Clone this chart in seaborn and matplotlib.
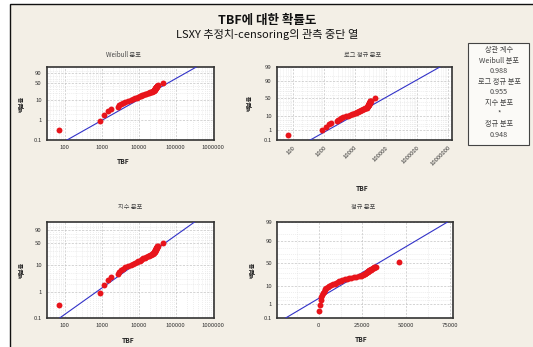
import math
import numpy as np
import matplotlib
matplotlib.use("Agg")
import matplotlib.pyplot as plt
import seaborn as sns
from matplotlib import patches, ticker

# TBF failure times and plotting positions (percent)
tbf = [70, 900, 1150, 1450, 1750, 2700, 2900, 3300, 3700, 4200, 5200, 6100, 6900, 8000,
       9000, 9900, 10800, 11700, 12500, 13500, 14900, 16200, 17400, 18600, 20000, 21500,
       23000, 24300, 25000, 25500, 26000, 26500, 26900, 27300, 27700, 28000, 28400, 28700,
       29000, 29300, 29700, 30100, 30500, 31000, 31400, 31800, 32200, 32600, 46000]
pct = [0.33, 0.87, 1.8, 2.7, 3.6, 4.5, 5.4, 6.3, 7.2, 8.1, 9.0, 9.9, 10.8, 11.7,
       12.6, 13.5, 14.4, 15.3, 16.2, 17.1, 18.0, 18.9, 19.8, 20.7, 21.6, 22.5,
       23.4, 24.3, 25.2, 26.1, 27.0, 27.9, 28.8, 29.7, 30.6, 31.5, 32.4, 33.3,
       34.2, 35.1, 36.0, 36.9, 37.8, 38.7, 39.6, 40.5, 41.4, 42.3, 52.0]

# LSXY fitted parameters (estimated from the fitted lines)
weib_shape, weib_scale = 1.05, 84000
lnorm_mu, lnorm_sigma = 11.425, 1.784
exp_mean = 72000
norm_mu, norm_sigma = 33900, 17100

corr_names = ["Weibull 분포", "로그 정규 분포", "지수 분포", "정규 분포"]
corr_values = ["0.988", "0.955", "*", "0.948"]

log_ticks = [100, 1000, 10000, 100000, 1000000]
lnorm_ticks = [100, 1000, 10000, 100000, 1000000, 10000000]
norm_xticks = [0, 25000, 50000, 75000]
ticks_short = [0.1, 1, 10, 50, 90]
ticks_long = [0.1, 1, 10, 50, 90, 99]
minor_pct = [2, 3, 5, 20, 30, 40, 60, 70, 80, 95]

RED = "#e8141b"
BLUE = "#3232c8"
BEIGE = "#f3efe6"


def norm_cdf(z):
    z = np.asarray(z, float)
    return 0.5 * (1 + np.vectorize(math.erf)(z / math.sqrt(2)))


def norm_ppf(p):
    p = np.asarray(p, float)
    shape = p.shape
    p = np.atleast_1d(p)
    a = [-3.969683028665376e+01, 2.209460984245205e+02, -2.759285104469687e+02,
         1.383577518672690e+02, -3.066479806614716e+01, 2.506628277459239e+00]
    b = [-5.447609879822406e+01, 1.615858368580409e+02, -1.556989798598866e+02,
         6.680131188771972e+01, -1.328068155288572e+01]
    c = [-7.784894002430293e-03, -3.223964580411365e-01, -2.400758277161838e+00,
         -2.549732539343734e+00, 4.374664141464968e+00, 2.938163982698783e+00]
    d = [7.784695709041462e-03, 3.224671290700398e-01, 2.445134137142996e+00,
         3.754408661907416e+00]
    out = np.empty_like(p)
    lo = p < 0.02425
    hi = p > 1 - 0.02425
    mid = ~(lo | hi)
    q = np.sqrt(-2 * np.log(p[lo]))
    out[lo] = (((((c[0]*q+c[1])*q+c[2])*q+c[3])*q+c[4])*q+c[5]) / ((((d[0]*q+d[1])*q+d[2])*q+d[3])*q+1)
    q = p[mid] - 0.5
    r = q * q
    out[mid] = (((((a[0]*r+a[1])*r+a[2])*r+a[3])*r+a[4])*r+a[5])*q / (((((b[0]*r+b[1])*r+b[2])*r+b[3])*r+b[4])*r+1)
    q = np.sqrt(-2 * np.log(1 - p[hi]))
    out[hi] = -(((((c[0]*q+c[1])*q+c[2])*q+c[3])*q+c[4])*q+c[5]) / ((((d[0]*q+d[1])*q+d[2])*q+d[3])*q+1)
    return out.reshape(shape)


def weib_fwd(p):
    q = np.clip(np.asarray(p, float) / 100, 1e-9, 1 - 1e-9)
    return np.log(-np.log(1 - q))


def weib_inv(y):
    return 100 * (1 - np.exp(-np.exp(np.asarray(y, float))))


def norm_fwd(p):
    return norm_ppf(np.clip(np.asarray(p, float) / 100, 1e-9, 1 - 1e-9))


def norm_inv(z):
    return 100 * norm_cdf(z)


sns.set_style("white")
plt.rcParams["font.family"] = ["Noto Sans CJK KR", "DejaVu Sans"]

W, H = 533, 347
fig = plt.figure(figsize=(W / 100, H / 100), dpi=100)
fig.patches.append(patches.Rectangle((10 / W, -0.05), 1.2, 1 - 4 / H + 0.05, transform=fig.transFigure,
                                     facecolor=BEIGE, edgecolor="#111111", lw=1.0, zorder=-5))


def fx(x):
    return x / W


def fy(y):
    return 1 - y / H


def make_ax(l, t, r, b):
    return fig.add_axes([fx(l), fy(b), fx(r) - fx(l), fy(t) - fy(b)])


def panel(ax, fit_x, fit_p, yfuncs, yticks, xlim, logx, xticks, title, title_xy, rot=False):
    sns.scatterplot(x=tbf, y=pct, ax=ax, color=RED, s=18, linewidth=0, zorder=4)
    keep = (fit_p > 0.03) & (fit_p < 99.9)
    sns.lineplot(x=fit_x[keep], y=fit_p[keep], ax=ax, color=BLUE, lw=0.8, sort=False,
                 estimator=None, zorder=3)
    ax.set_yscale("function", functions=yfuncs)
    ax.set_ylim(0.1, 99)
    ax.yaxis.set_major_locator(ticker.FixedLocator(yticks))
    ax.yaxis.set_major_formatter(ticker.FixedFormatter([f"{t:g}" for t in yticks]))
    ax.yaxis.set_minor_locator(ticker.FixedLocator(minor_pct))
    ax.yaxis.set_minor_formatter(ticker.NullFormatter())
    if logx:
        ax.set_xscale("log")
        ax.xaxis.set_minor_locator(ticker.LogLocator(base=10, subs=np.arange(2, 10)))
        ax.xaxis.set_minor_formatter(ticker.NullFormatter())
    else:
        ax.xaxis.set_minor_locator(ticker.MultipleLocator(12500))
    ax.set_xlim(*xlim)
    ax.xaxis.set_major_locator(ticker.FixedLocator(xticks))
    ax.xaxis.set_major_formatter(ticker.FixedFormatter([str(t) for t in xticks]))
    ax.set_facecolor("white")
    ax.grid(True, which="major", color="#c4c4c4", lw=0.5, ls=(0, (3, 2)))
    ax.grid(True, which="minor", color="#dddddd", lw=0.4, ls=(0, (1.5, 2)))
    for s in ax.spines.values():
        s.set_color("#333333")
        s.set_linewidth(1.2)
    ax.tick_params(which="major", labelsize=4.3, colors="#333333", length=2, width=0.5, pad=1.5)
    ax.tick_params(which="minor", length=0)
    if rot:
        plt.setp(ax.get_xticklabels(), rotation=45, ha="right", rotation_mode="anchor")
    ax.set_xlabel("TBF", fontsize=4.8, fontweight="bold", color="#222222")
    ax.set_ylabel("백분율", fontsize=4.2, fontweight="bold", color="#222222")
    fig.text(fx(title_xy[0]), fy(title_xy[1]), title, fontsize=4.5, color="#444444",
             ha="center", va="center")


# Weibull
ax1 = make_ax(46.7, 67, 214, 140)
xw = np.logspace(np.log10(33), np.log10(1.08e6), 300)
pw = 100 * (1 - np.exp(-(xw / weib_scale) ** weib_shape))
panel(ax1, xw, pw, (weib_fwd, weib_inv), ticks_short, (33, 1.08e6), True, log_ticks,
      "Weibull 분포", (123, 55))
ax1.xaxis.set_label_coords(0.456, -0.25)
ax1.yaxis.set_label_coords(-0.13, 0.5)

# Lognormal
ax2 = make_ax(276.7, 66.7, 451.7, 140)
xl = np.logspace(np.log10(30.5), np.log10(1.35e7), 300)
pl = norm_cdf((np.log(xl) - lnorm_mu) / lnorm_sigma) * 100
panel(ax2, xl, pl, (norm_fwd, norm_inv), ticks_long, (30.5, 1.35e7), True, lnorm_ticks,
      "로그 정규 분포", (363, 55), rot=True)
ax2.xaxis.set_label_coords(0.487, -0.62)
ax2.yaxis.set_label_coords(-0.135, 0.5)

# Exponential
ax3 = make_ax(46.7, 221.7, 214, 318.3)
xe = np.logspace(np.log10(33), np.log10(1.08e6), 300)
pe = 100 * (1 - np.exp(-xe / exp_mean))
panel(ax3, xe, pe, (weib_fwd, weib_inv), ticks_short, (33, 1.08e6), True, log_ticks,
      "지수 분포", (130, 207))
ax3.xaxis.set_label_coords(0.486, -0.19)
ax3.yaxis.set_label_coords(-0.13, 0.5)

# Normal
ax4 = make_ax(277, 222, 453, 318)
xn = np.linspace(-23900, 76800, 300)
pn = norm_cdf((xn - norm_mu) / norm_sigma) * 100
panel(ax4, xn, pn, (norm_fwd, norm_inv), ticks_long, (-23900, 76800), False, norm_xticks,
      "정규 분포", (363, 207))
ax4.xaxis.set_label_coords(0.477, -0.19)
ax4.yaxis.set_label_coords(-0.12, 0.5)

# titles
fig.text(fx(267), fy(20.5), "TBF에 대한 확률도", fontsize=9, fontweight="bold",
         ha="center", va="center", color="#111111")
fig.text(fx(267), fy(34), "LSXY 추정치-censoring의 관측 중단 열", fontsize=8,
         ha="center", va="center", color="#111111")

# correlation box
fig.patches.append(patches.Rectangle((fx(468), fy(145)), fx(529) - fx(468), fy(43) - fy(145),
                                     transform=fig.transFigure, facecolor="#fbfaf7",
                                     edgecolor="#444444", lw=0.8, zorder=1))
lines = ["상관 계수"]
for n, v in zip(corr_names, corr_values):
    lines += [n, v]
for i, s in enumerate(lines):
    fig.text(fx(499), fy(50 + i * 10.6), s, fontsize=5.2, color="#444444",
             ha="center", va="center", zorder=2)

fig.savefig("out.png", dpi=100)
